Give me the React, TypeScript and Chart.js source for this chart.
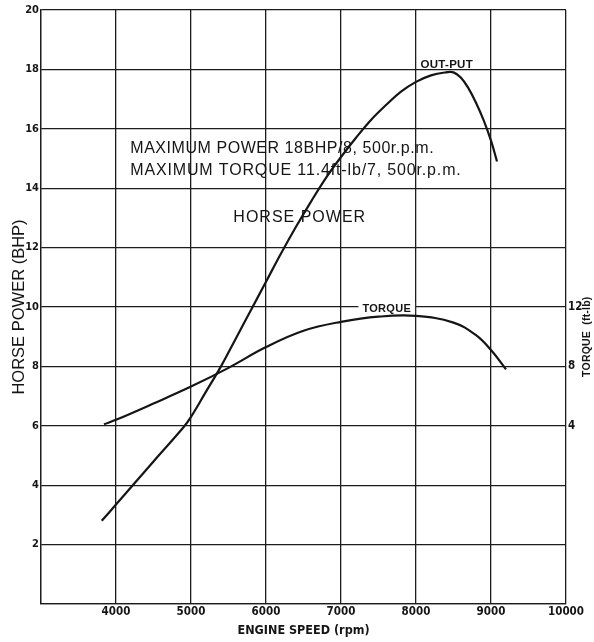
import { useEffect, useRef } from 'react';
import { Chart, registerables } from 'chart.js';

Chart.register(...registerables);

const FONT = '"Liberation Sans", Arial, Helvetica, sans-serif';
const NARROW = '"Liberation Sans Narrow", "DejaVu Sans Condensed", "Liberation Sans", Arial, sans-serif';
const INK = '#151515';

// Horse power curve (BHP) vs engine speed (rpm)
const powerRpm = [3810, 4000, 4500, 4900, 5000, 5200, 5400, 5600, 5800, 6000, 6200, 6400, 6600, 6800, 7000, 7200, 7400, 7600, 7800, 8000, 8200, 8400, 8500, 8600, 8700, 8800, 8900, 9000, 9080];
const powerBhp = [2.8, 3.35, 4.8, 5.95, 6.3, 7.15, 8.0, 8.95, 9.9, 10.85, 11.8, 12.7, 13.55, 14.35, 15.05, 15.7, 16.3, 16.8, 17.25, 17.58, 17.8, 17.9, 17.9, 17.72, 17.36, 16.88, 16.3, 15.6, 14.9];

// Torque curve (ft-lb) vs engine speed (rpm)
const torqueRpm = [3840, 4000, 4500, 5000, 5500, 6000, 6500, 7000, 7500, 8000, 8500, 8800, 9000, 9200];
const torqueFtLb = [4.1, 4.4, 5.5, 6.64, 7.9, 9.3, 10.4, 11.0, 11.35, 11.4, 10.95, 10.1, 9.1, 7.8];

// Axes
const rpmMin = 3000;
const rpmMax = 10000;
const rpmStep = 1000;
const hpMin = 0;
const hpMax = 20;
const hpStep = 2;
const torqueMin = -8;
const torqueMax = 32;
const torqueTicksShown = [4, 8, 12];

// Texts
const yTitle = 'HORSE POWER (BHP)';
const xTitle = 'ENGINE SPEED (rpm)';
const y2Title = 'TORQUE  (ft-lb)';
const specLine1 = 'MAXIMUM POWER 18BHP/8, 500r.p.m.';
const specLine2 = 'MAXIMUM TORQUE 11.4ft-lb/7, 500r.p.m.';
const hpLabel = 'HORSE POWER';
const outputLabel = 'OUT-PUT';
const torqueLabel = 'TORQUE';

const annotationPlugin = {
  id: 'engineAnnotations',
  afterDatasetsDraw(chart: any) {
    const { ctx, scales, chartArea } = chart;
    const x = scales.x;
    const y = scales.y;
    ctx.save();
    ctx.fillStyle = INK;
    ctx.textBaseline = 'middle';

    // Spec lines
    ctx.font = `16px ${FONT}`;
    ctx.textAlign = 'left';
    (ctx as any).letterSpacing = '0.55px';
    ctx.fillText(specLine1, x.getPixelForValue(4190), y.getPixelForValue(15.35));
    (ctx as any).letterSpacing = '0.85px';
    ctx.fillText(specLine2, x.getPixelForValue(4190), y.getPixelForValue(14.6));

    // HORSE POWER
    (ctx as any).letterSpacing = '1px';
    ctx.textAlign = 'center';
    ctx.fillText(hpLabel, x.getPixelForValue(6450), y.getPixelForValue(13.0));

    // OUT-PUT
    (ctx as any).letterSpacing = '0.3px';
    ctx.font = `bold 11.5px ${FONT}`;
    ctx.fillText(outputLabel, x.getPixelForValue(8410), y.getPixelForValue(18.17));

    // TORQUE with white backing over the grid line
    ctx.font = `bold 11px ${FONT}`;
    const tx = x.getPixelForValue(7610);
    const ty = y.getPixelForValue(9.95);
    const tw = ctx.measureText(torqueLabel).width;
    ctx.fillStyle = '#ffffff';
    ctx.fillRect(tx - tw / 2 - 4, ty - 6, tw + 8, 11);
    ctx.fillStyle = INK;
    ctx.fillText(torqueLabel, tx, ty);

    // Right axis title (reads bottom to top)
    ctx.font = `bold 10.5px ${FONT}`;
    (ctx as any).letterSpacing = '0.2px';
    ctx.translate(chartArea.right + 21, y.getPixelForValue(9.0));
    ctx.rotate(-Math.PI / 2);
    ctx.textAlign = 'center';
    ctx.fillText(y2Title, 0, 0);
    ctx.restore();
  },
};

export default function App() {
  const canvasRef = useRef<HTMLCanvasElement | null>(null);

  useEffect(() => {
    const canvas = canvasRef.current;
    if (!canvas) return;
    const chart = new Chart(canvas, {
      type: 'line',
      data: {
        datasets: [
          {
            label: 'Horse power',
            data: powerRpm.map((r, i) => ({ x: r, y: powerBhp[i] })),
            borderColor: INK,
            borderWidth: 2.2,
            pointRadius: 0,
            fill: false,
            tension: 0.4,
            yAxisID: 'y',
          },
          {
            label: 'Torque',
            data: torqueRpm.map((r, i) => ({ x: r, y: torqueFtLb[i] })),
            borderColor: INK,
            borderWidth: 2.2,
            pointRadius: 0,
            fill: false,
            tension: 0.4,
            yAxisID: 'y2',
          },
        ],
      },
      options: {
        animation: false,
        responsive: false,
        maintainAspectRatio: false,
        layout: { padding: { top: 10, left: 0, right: 0, bottom: 0 } },
        plugins: {
          legend: { display: false },
          tooltip: { enabled: false },
        },
        scales: {
          x: {
            type: 'linear',
            min: rpmMin,
            max: rpmMax,
            afterFit: (s: any) => { s.height = 38; },
            ticks: {
              stepSize: rpmStep,
              color: INK,
              padding: 1,
              maxRotation: 0,
              font: { family: NARROW, size: 11.5, weight: 'bold' },
              callback: (v: any) => (Number(v) === rpmMin ? '' : String(v)),
            },
            grid: { color: '#1c1c1c', lineWidth: 1.3, drawTicks: false },
            border: { color: '#1c1c1c', width: 1.3 },
            title: {
              display: true,
              text: xTitle,
              color: INK,
              font: { family: NARROW, size: 12.5, weight: 'bold' },
              padding: { top: 0, bottom: 4 },
            },
          },
          y: {
            type: 'linear',
            position: 'left',
            min: hpMin,
            max: hpMax,
            afterFit: (s: any) => { s.width = 41; },
            ticks: {
              stepSize: hpStep,
              color: INK,
              padding: 2,
              font: { family: NARROW, size: 11, weight: 'bold' },
              callback: (v: any) => (Number(v) === hpMin ? '' : String(v)),
            },
            grid: { color: '#1c1c1c', lineWidth: 1.3, drawTicks: false },
            border: { color: '#1c1c1c', width: 1.3 },
            title: {
              display: true,
              text: yTitle,
              color: INK,
              font: { family: FONT, size: 16.5, weight: 'normal' },
              padding: { top: 10, bottom: 0 },
            },
          },
          y2: {
            type: 'linear',
            position: 'right',
            min: torqueMin,
            max: torqueMax,
            afterFit: (s: any) => { s.width = 28; },
            afterBuildTicks: (s: any) => {
              s.ticks = torqueTicksShown.map((v) => ({ value: v }));
            },
            ticks: {
              color: INK,
              padding: 2,
              font: { family: NARROW, size: 11.5, weight: 'bold' },
            },
            grid: { display: false, drawTicks: false },
            border: { display: false },
          },
        },
      },
      plugins: [annotationPlugin],
    } as any);
    return () => chart.destroy();
  }, []);

  return (
    <div style={{ position: 'absolute', left: 0, top: 0, width: 594, height: 642, background: '#fff' }}>
      <canvas ref={canvasRef} width={594} height={642} />
    </div>
  );
}
